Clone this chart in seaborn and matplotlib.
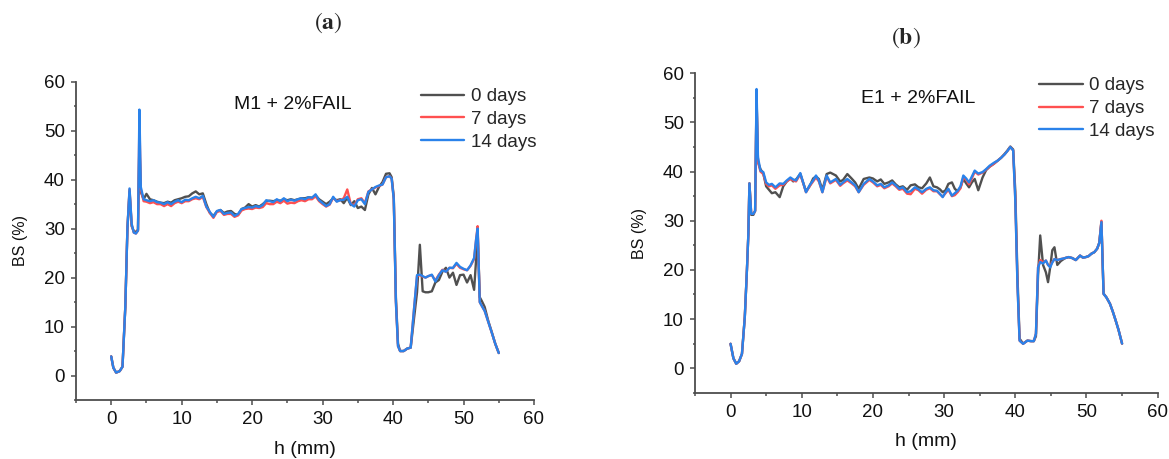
import numpy as np
import pandas as pd
import seaborn as sns
import matplotlib.pyplot as plt
from matplotlib.ticker import MultipleLocator

# ---- panel (a): M1 + 2%FAIL ----
h_a = [0, 0.3, 0.7, 1.2, 1.6, 2.0, 2.3, 2.6, 2.9, 3.2,
       3.5, 3.8, 4.0, 4.2, 4.6, 5.0, 5.5, 6.0, 6.5, 7.0,
       7.5, 8.0, 8.5, 9.0, 9.5, 10.0, 10.5, 11.0, 11.5, 12.0,
       12.5, 13.0, 13.5, 14.0, 14.5, 15.0, 15.5, 16.0, 16.5, 17.0,
       17.5, 18.0, 18.5, 19.0, 19.5, 20.0, 20.5, 21.0, 21.5, 22.0,
       22.5, 23.0, 23.5, 24.0, 24.5, 25.0, 25.5, 26.0, 26.5, 27.0,
       27.5, 28.0, 28.5, 29.0, 29.5, 30.0, 30.5, 31.0, 31.5, 32.0,
       32.5, 33.0, 33.5, 34.0, 34.5, 35.0, 35.5, 36.0, 36.5, 37.0,
       37.5, 38.0, 38.5, 39.0, 39.5, 39.8, 40.1, 40.4, 40.7, 41.0,
       41.5, 42.0, 42.5, 43.0, 43.4, 43.8, 44.2, 44.6, 45.0, 45.5,
       46.0, 46.5, 47.0, 47.5, 48.0, 48.5, 49.0, 49.5, 50.0, 50.5,
       51.0, 51.5, 51.8, 52.0, 52.3, 52.6, 53.0, 53.5, 54.0, 54.5,
       55.0]

bs_a_0 = [3.9, 1.6, 0.6, 0.9, 1.8, 14.0, 30.0, 37.6, 30.5, 29.5,
          29.3, 29.8, 47.5, 37.5, 36.0, 37.1, 36.0, 35.8, 35.5, 35.3,
          35.2, 35.5, 35.3, 35.8, 36.0, 36.2, 36.5, 36.6, 37.2, 37.6,
          37.0, 37.2, 35.0, 33.2, 32.6, 33.5, 33.8, 33.2, 33.5, 33.6,
          33.0, 32.8, 34.0, 34.3, 35.0, 34.5, 34.8, 34.5, 35.0, 35.6,
          35.7, 35.6, 35.8, 35.7, 36.0, 35.8, 36.0, 35.8, 36.0, 36.2,
          36.2, 36.4, 36.3, 36.8, 36.0, 35.5, 35.0, 35.5, 36.2, 35.8,
          36.0, 35.2, 36.3, 34.8, 35.6, 34.2, 34.5, 33.8, 37.0, 38.3,
          37.0, 38.5, 39.5, 41.2, 41.3, 40.5, 36.5, 16.0, 6.5, 5.0,
          5.0, 5.5, 5.7, 12.0, 17.0, 26.7, 17.2, 17.0, 17.0, 17.2,
          19.0, 19.5, 21.2, 22.0, 20.0, 21.0, 18.5, 20.5, 20.6, 19.0,
          20.5, 17.5, 24.0, 29.5, 16.0, 15.2, 14.0, 11.2, 8.9, 6.5,
          4.6]

bs_a_7 = [3.9, 1.6, 0.6, 0.9, 1.8, 14.0, 30.0, 38.0, 30.8, 29.2,
          29.0, 29.6, 52.0, 38.0, 35.6, 35.5, 35.2, 35.4, 35.0, 35.0,
          34.6, 35.0, 34.6, 35.2, 35.5, 35.2, 35.6, 35.6, 36.0, 36.2,
          36.0, 36.5, 34.4, 33.2, 32.2, 33.4, 33.6, 32.8, 33.0, 33.0,
          32.4, 32.7, 33.7, 34.0, 34.1, 34.0, 34.3, 34.2, 34.4, 35.2,
          35.0, 35.0, 35.5, 35.2, 35.7, 35.1, 35.3, 35.2, 35.6, 35.8,
          35.6, 36.0, 36.0, 36.6, 35.6, 35.0, 34.5, 34.9, 36.3, 35.6,
          35.8, 36.2, 38.0, 35.0, 34.8, 36.0, 36.2, 35.2, 37.6, 38.0,
          38.4, 38.7, 39.0, 40.5, 40.7, 40.2, 36.0, 15.0, 6.0, 5.0,
          5.0, 5.5, 5.7, 14.0, 20.3, 20.5, 20.2, 20.0, 20.3, 20.5,
          19.4, 20.6, 21.6, 21.2, 22.0, 21.9, 22.8, 22.0, 21.7, 21.5,
          22.4, 23.8, 28.0, 30.5, 15.0, 14.2, 13.2, 11.0, 8.8, 6.5,
          4.6]

bs_a_14 = [3.9, 1.6, 0.6, 0.9, 1.8, 14.0, 30.0, 38.2, 31.0, 29.2,
           29.0, 29.6, 54.3, 38.5, 36.0, 35.8, 35.6, 35.8, 35.4, 35.3,
           35.0, 35.4, 35.0, 35.5, 35.8, 35.4, 35.9, 35.8, 36.2, 36.5,
           36.2, 36.7, 34.5, 33.4, 32.4, 33.6, 33.8, 33.0, 33.2, 33.3,
           32.6, 33.0, 34.0, 34.2, 34.4, 34.3, 34.6, 34.4, 34.8, 35.8,
           35.6, 35.4, 36.0, 35.6, 36.2, 35.6, 35.9, 35.7, 36.0, 36.2,
           36.0, 36.4, 36.3, 37.0, 35.8, 35.2, 34.6, 35.0, 36.5, 35.5,
           35.8, 35.9, 36.5, 35.0, 34.5, 35.8, 36.0, 35.0, 37.5, 38.0,
           38.5, 38.8, 39.0, 40.5, 40.7, 40.2, 36.0, 15.0, 6.0, 5.0,
           5.0, 5.5, 5.7, 14.0, 20.5, 20.6, 20.3, 20.0, 20.3, 20.6,
           19.2, 20.5, 21.5, 21.2, 22.0, 22.0, 23.0, 22.2, 21.8, 21.5,
           22.5, 24.0, 28.0, 30.0, 15.0, 14.2, 13.2, 11.0, 8.8, 6.5,
           4.6]

# ---- panel (b): E1 + 2%FAIL ----
h_b = [0, 0.4, 0.8, 1.2, 1.6, 2.0, 2.3, 2.5, 2.65, 2.9,
       3.2, 3.45, 3.65, 3.85, 4.2, 4.6, 5.0, 5.4, 5.8, 6.3,
       6.9, 7.4, 7.9, 8.4, 8.8, 9.2, 9.8, 10.6, 11.1, 11.6,
       12.0, 12.4, 12.9, 13.5, 14.0, 14.8, 15.4, 15.8, 16.4, 17.0,
       17.5, 18.0, 18.7, 19.5, 20.0, 20.6, 21.1, 21.6, 22.2, 22.7,
       23.2, 23.7, 24.2, 24.8, 25.3, 25.9, 26.4, 26.9, 27.5, 28.0,
       28.5, 29.0, 29.4, 29.8, 30.2, 30.6, 31.1, 31.5, 31.9, 32.3,
       32.7, 33.1, 33.5, 33.9, 34.3, 34.8, 35.4, 35.9, 36.4, 37.0,
       37.5, 38.0, 38.5, 38.9, 39.3, 39.7, 40.0, 40.3, 40.6, 41.1,
       41.7, 42.2, 42.6, 42.9, 43.2, 43.5, 43.9, 44.3, 44.6, 44.9,
       45.2, 45.5, 45.9, 46.4, 47.0, 47.5, 48.0, 48.5, 49.1, 49.5,
       49.9, 50.3, 50.7, 51.1, 51.5, 51.8, 52.1, 52.4, 52.8, 53.3,
       53.7, 54.1, 54.5, 55.0]

bs_b_0 = [4.95, 2.0, 0.9, 1.4, 2.9, 10.4, 20.0, 27.3, 37.6, 31.2,
          31.2, 32.0, 55.5, 42.0, 40.5, 39.6, 37.0, 36.3, 35.6, 35.8,
          34.8, 37.0, 38.0, 38.6, 38.0, 38.4, 39.5, 36.0, 37.0, 38.6,
          39.0, 38.5, 36.3, 39.5, 39.8, 39.2, 38.0, 38.3, 39.5, 38.6,
          37.8, 36.5, 38.5, 38.8, 38.6, 38.0, 38.4, 37.5, 37.8, 38.2,
          37.4, 36.8, 37.0, 36.3, 37.2, 37.4, 36.8, 36.6, 37.6, 38.8,
          37.0, 36.8, 36.4, 35.8, 36.2, 37.5, 37.8, 36.5, 36.0, 36.8,
          38.5, 37.6, 36.8, 37.8, 38.5, 36.2, 38.8, 40.3, 41.0, 41.6,
          42.2, 42.8, 43.6, 44.3, 45.1, 44.5, 36.0, 19.0, 6.0, 5.0,
          5.6, 5.5, 5.5, 6.5, 19.0, 27.0, 21.0, 19.5, 17.5, 20.5,
          24.0, 24.6, 21.0, 21.8, 22.4, 22.6, 22.4, 22.0, 22.9, 22.5,
          22.6, 22.8, 23.3, 23.6, 24.3, 25.5, 29.8, 15.2, 14.4, 13.1,
          11.5, 9.7, 7.8, 5.0]

bs_b_7 = [4.95, 2.0, 0.9, 1.4, 2.9, 10.4, 20.0, 27.3, 37.6, 31.4,
          31.4, 32.0, 55.0, 42.0, 40.0, 39.5, 37.5, 37.0, 37.2, 36.5,
          37.2, 37.3, 38.0, 38.5, 38.2, 38.0, 39.5, 35.8, 37.0, 38.0,
          38.8, 38.0, 35.8, 39.0, 37.6, 38.3, 37.1, 37.6, 38.2, 37.6,
          37.0, 35.8, 37.3, 38.3, 37.8, 37.0, 37.3, 36.6, 37.0, 37.6,
          37.0, 36.3, 36.5, 35.5, 35.4, 36.5, 36.2, 35.5, 36.3, 36.6,
          36.0, 36.0, 35.4, 34.9, 35.6, 36.3, 35.0, 35.2, 35.8, 36.6,
          38.8, 38.4, 37.4, 38.6, 40.0, 39.4, 39.8, 40.4, 41.0, 41.6,
          42.2, 42.8, 43.5, 44.2, 45.0, 44.3, 34.5, 17.5, 5.6, 4.95,
          5.6, 5.5, 5.5, 7.0, 20.5, 22.0, 21.5, 21.9, 21.0, 20.8,
          21.6, 22.2, 22.0, 22.2, 22.4, 22.6, 22.4, 22.0, 22.9, 22.5,
          22.6, 22.8, 23.3, 23.6, 24.3, 25.5, 30.0, 15.1, 14.4, 13.1,
          11.5, 9.7, 7.8, 5.0]

bs_b_14 = [4.95, 2.0, 0.9, 1.4, 2.9, 10.4, 20.0, 27.3, 37.6, 31.4,
           31.4, 32.0, 56.8, 42.9, 40.2, 39.9, 37.8, 37.3, 37.5, 36.8,
           37.6, 37.5, 38.2, 38.8, 38.4, 38.2, 39.7, 35.8, 37.2, 38.2,
           39.2, 38.2, 35.8, 39.2, 37.8, 38.5, 37.3, 37.8, 38.5, 37.8,
           37.2, 35.8, 37.5, 38.5, 38.0, 37.2, 37.5, 36.8, 37.2, 37.8,
           37.2, 36.5, 36.8, 35.8, 36.0, 36.8, 36.4, 35.8, 36.5, 36.8,
           36.2, 36.1, 35.5, 34.8, 35.8, 36.5, 35.1, 35.6, 36.1, 37.0,
           39.2, 38.6, 37.8, 39.0, 40.2, 39.6, 39.9, 40.5, 41.2, 41.8,
           42.2, 42.8, 43.5, 44.2, 45.0, 44.3, 34.1, 17.2, 5.6, 4.95,
           5.6, 5.5, 5.5, 7.0, 20.5, 21.6, 21.3, 21.9, 21.0, 20.5,
           21.5, 22.2, 22.0, 22.2, 22.4, 22.6, 22.4, 22.0, 22.9, 22.5,
           22.6, 22.8, 23.3, 23.6, 24.3, 25.5, 29.7, 15.1, 14.4, 13.1,
           11.5, 9.7, 7.8, 5.0]

series_names = ['0 days', '7 days', '14 days']
colors = {'0 days': '#505050', '7 days': '#ff5050', '14 days': '#2a82ea'}

sns.set_theme(style='ticks')
plt.rcParams['font.family'] = ['Liberation Sans', 'DejaVu Sans']
plt.rcParams['mathtext.fontset'] = 'stix'


def long_table(h, curves):
    parts = []
    for name, vals in zip(series_names, curves):
        parts.append(pd.DataFrame({'h': h, 'BS': vals, 'series': name}))
    return pd.concat(parts, ignore_index=True)


fig = plt.figure(figsize=(11.69, 4.59), dpi=100)
ax_a = fig.add_axes([0.0650, 0.1285, 0.3918, 0.6935])
ax_b = fig.add_axes([0.5945, 0.1444, 0.3958, 0.6959])

panels = [
    (ax_a, long_table(h_a, [bs_a_0, bs_a_7, bs_a_14]), 'M1 + 2%FAIL', (25.8, 55.4), (44.0, 58.7)),
    (ax_b, long_table(h_b, [bs_b_0, bs_b_7, bs_b_14]), 'E1 + 2%FAIL', (26.4, 54.8), (43.4, 59.2)),
]

for ax, df, note, note_xy, leg_xy in panels:
    sns.lineplot(data=df, x='h', y='BS', hue='series', hue_order=series_names,
                 palette=colors, estimator=None, sort=False, linewidth=1.7, ax=ax)
    ax.set_xlim(-5, 60)
    ax.set_ylim(-5, 60)
    ax.xaxis.set_minor_locator(MultipleLocator(5))
    ax.yaxis.set_minor_locator(MultipleLocator(5))
    ax.set_xticks([0, 10, 20, 30, 40, 50, 60])
    ax.set_yticks([0, 10, 20, 30, 40, 50, 60])
    for side in ['top', 'right']:
        ax.spines[side].set_visible(False)
    for side in ['left', 'bottom']:
        ax.spines[side].set_color('#4d4d4d')
        ax.spines[side].set_linewidth(1.3)
    ax.tick_params(which='major', direction='out', length=3.6, width=1.1,
                   color='#4d4d4d', labelsize=13.5, pad=4.5, labelcolor='#111111')
    ax.tick_params(which='minor', direction='out', length=1.8, width=1.1, color='#4d4d4d')
    ax.set_xlabel('h (mm)', fontsize=14, labelpad=9, color='#111111')
    ax.set_ylabel('BS (%)', fontsize=11.5, labelpad=11, color='#111111')
    ax.text(note_xy[0], note_xy[1], note, fontsize=14, ha='center', va='center', color='#111111')
    handles, labels = ax.get_legend_handles_labels()
    ax.legend(handles, labels, loc='upper left', bbox_to_anchor=leg_xy,
              bbox_transform=ax.transData, frameon=False, borderpad=0,
              borderaxespad=0, handlelength=2.3, handletextpad=0.35,
              labelspacing=0.3, fontsize=13.5)

fig.text(328 / 1169, 1 - 23 / 459, r'($\mathbf{a}$)', fontsize=17,
         family='STIXGeneral', ha='center', va='center')
fig.text(906 / 1169, 1 - 38 / 459, r'($\mathbf{b}$)', fontsize=17,
         family='STIXGeneral', ha='center', va='center')

fig.savefig('out.png', dpi=100)
